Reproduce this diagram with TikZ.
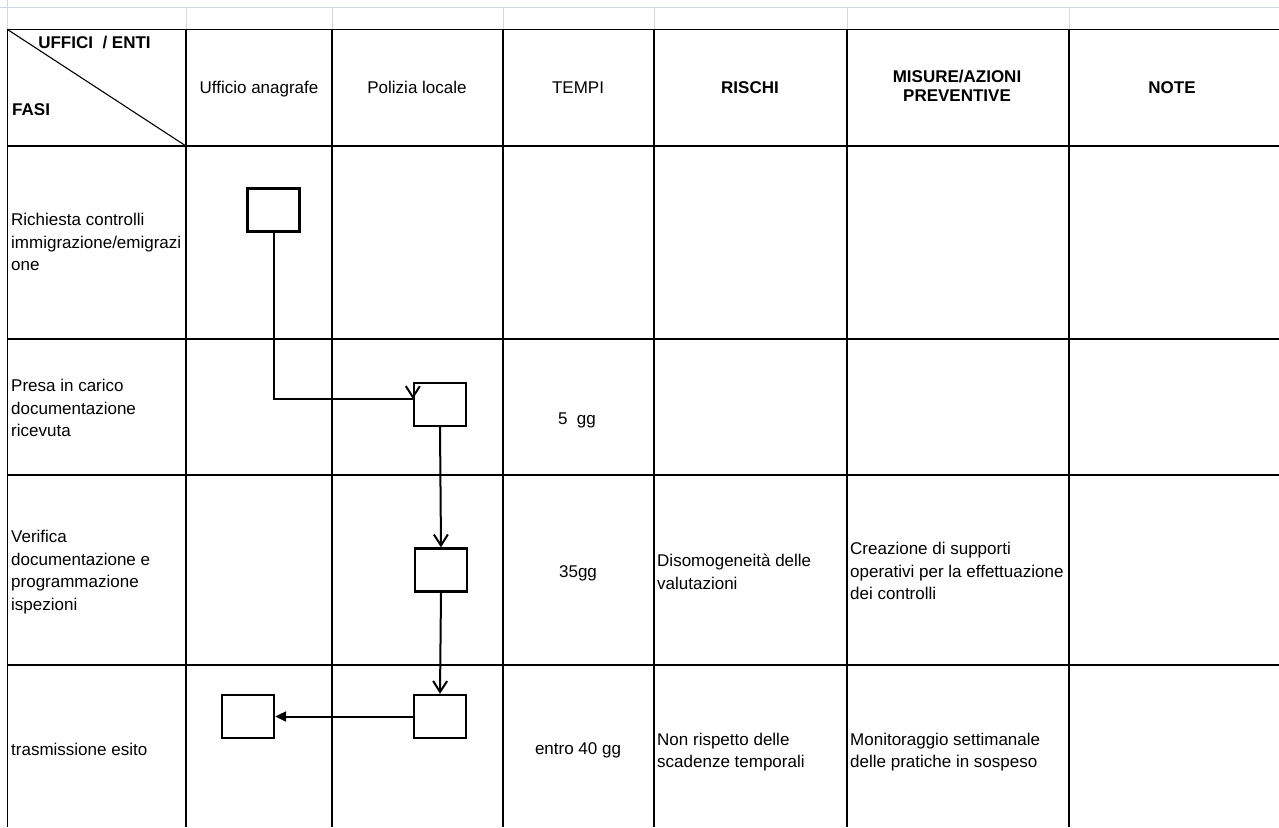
\documentclass[tikz,border=0pt]{standalone}
\usepackage{fontspec}
\setmainfont{Liberation Sans}
\usetikzlibrary{arrows.meta}

\definecolor{gridgray}{RGB}{208,215,229}

\begin{document}
\begin{tikzpicture}[x=1pt,y=-1pt,
    font=\fontsize{17}{22.5}\selectfont,
    bold/.style={font=\fontsize{17}{22.5}\selectfont\bfseries},
    cell/.style={text height=12.2pt,text depth=0pt,inner sep=0pt},
    phase/.style={anchor=west,align=left,inner sep=0pt},
    fbox/.style={draw,line width=2.3pt,minimum width=52pt,minimum height=43pt,inner sep=0pt},
    link/.style={line width=2pt},
    openhead/.style={link,-{Straight Barb[length=11pt,width=14pt]}},
    fullhead/.style={link,-{Triangle[length=11pt,width=10pt]}}]
\useasboundingbox (0,0) rectangle (1279,827);

% spreadsheet grid above the table
\draw[gridgray, line width=1pt] (0,7.5) -- (1279,7.5);
\draw[gridgray, line width=1pt] (7.5,0) -- (7.5,29.5);
\foreach \x in {186,332,503,654,847,1069} \draw[gridgray, line width=1pt] (\x,7.5) -- (\x,29.5);

% table
\draw[line width=1.8pt] (1279,29.5) -- (7.5,29.5) -- (7.5,827);
\foreach \x in {186,332,503,654,847,1069} \draw[line width=1.8pt] (\x,29.5) -- (\x,827);
\foreach \y in {146,339,475,665} \draw[line width=1.6pt] (7.5,\y) -- (1279,\y);
\draw[line width=1.1pt] (7.5,29.5) -- (186,146);

% header
\node[bold, cell] (uffici) at (94.5,42) {UFFICI\ \ / ENTI};
\node[bold, cell, anchor=west] (fasi) at (12,109) {FASI};
\node[cell] (anagrafe) at (259,87) {Ufficio anagrafe};
\node[cell] (polizia) at (417,87) {Polizia locale};
\node[cell] (tempi) at (578,87) {TEMPI};
\node[bold, cell] (rischi) at (750,87) {RISCHI};
\node[font=\fontsize{17}{19}\selectfont\bfseries, align=center] (misure) at (957,86) {MISURE/AZIONI\\PREVENTIVE};
\node[bold, cell] (note) at (1172,87) {NOTE};

% fasi
\node[phase] (f1) at (11,242) {Richiesta controlli\\immigrazione/emigrazi\\one};
\node[phase] (f2) at (11,408) {Presa in carico\\documentazione\\ricevuta};
\node[phase] (f3) at (11,572) {Verifica\\documentazione e\\programmazione\\ispezioni};
\node[phase] (f4) at (11,749) {trasmissione esito};

% tempi, rischi, misure
\node[cell] (t2) at (577,418) {5\ \ gg};
\node[cell] (t3) at (578,571) {35gg};
\node[cell] (t4) at (578,748) {entro 40 gg};
\node[phase] (r3) at (657,572) {Disomogeneità delle\\valutazioni};
\node[phase] (r4) at (657,752) {Non rispetto delle\\scadenze temporali};
\node[phase] (m3) at (850,571) {Creazione di supporti\\operativi per la effettuazione\\dei controlli};
\node[phase] (m4) at (850,752) {Monitoraggio settimanale\\delle pratiche in sospeso};

% flow
\node[fbox] (a) at (273.5,210) {};
\node[fbox] (b) at (440,404.5) {};
\node[fbox] (c) at (441,570) {};
\node[fbox] (d) at (440,716.5) {};
\node[fbox] (e) at (248,716.5) {};

\coordinate (b-in) at ([yshift=5.5pt]b.west);
\draw[link] (a.south) |- (b-in);
\draw[openhead] ([yshift=1pt]b-in) -- (b-in);
\draw[openhead] (b.south) -- (c.north);
\draw[openhead] (c.south) -- (d.north);
\draw[fullhead] (d.west) -- (e.east);

\end{tikzpicture}
\end{document}
